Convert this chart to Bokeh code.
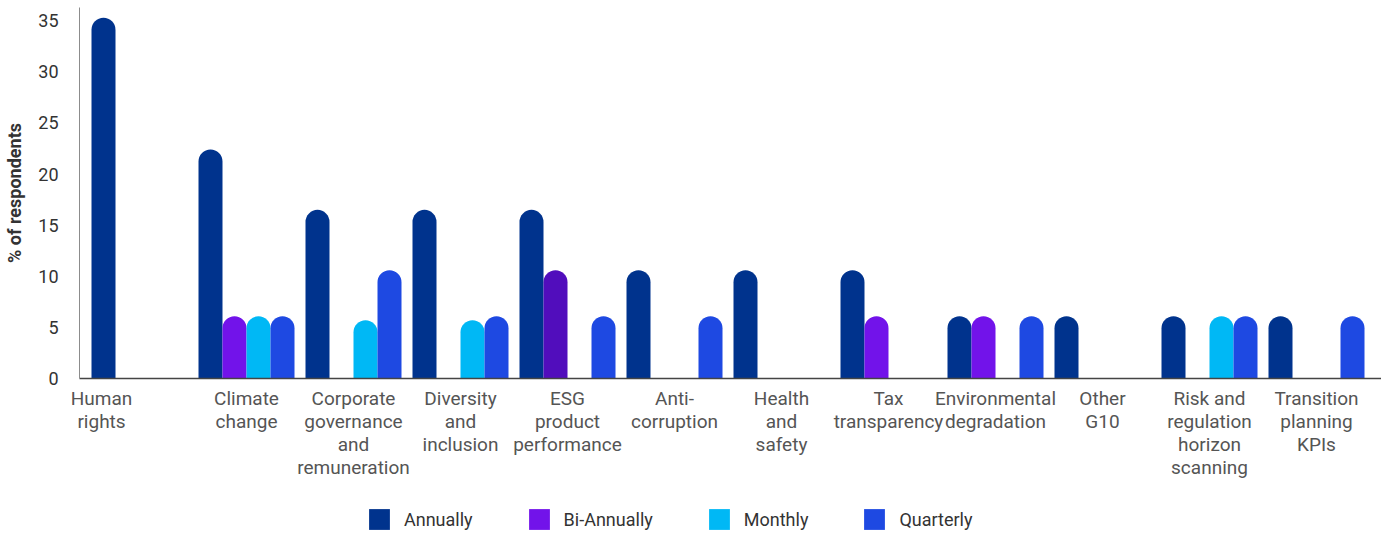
from bokeh.plotting import figure
from bokeh.layouts import column
from bokeh.models import ColumnDataSource, FixedTicker, Legend, LegendItem, Range1d
from bokeh.embed import file_html
from bokeh.resources import INLINE

categories = ["Human rights", "Climate change", "Corporate governance and remuneration",
              "Diversity and inclusion", "ESG product performance", "Anti-corruption",
              "Health and safety", "Tax transparency", "Environmental degradation",
              "Other G10", "Risk and regulation horizon scanning", "Transition planning KPIs"]
tick_labels = ["Human\nrights", "Climate\nchange", "Corporate\ngovernance\nand\nremuneration",
               "Diversity\nand\ninclusion", "ESG\nproduct\nperformance", "Anti-\ncorruption",
               "Health\nand\nsafety", "Tax\ntransparency", "Environmental\ndegradation",
               "Other\nG10", "Risk and\nregulation\nhorizon\nscanning", "Transition\nplanning\nKPIs"]
series = ["Annually", "Bi-Annually", "Monthly", "Quarterly"]
annually    = [35.3, 22.4, 16.5, 16.5, 16.5, 10.6, 10.6, 10.6, 6.1, 6.1, 6.1, 6.1]
bi_annually = [0, 6.1, 0, 0, 10.6, 0, 0, 6.1, 6.1, 0, 0, 0]
monthly     = [0, 6.1, 5.7, 5.7, 0, 0, 0, 0, 0, 0, 6.1, 0]
quarterly   = [0, 6.1, 10.6, 6.1, 6.1, 6.1, 0, 0, 6.1, 0, 6.1, 6.1]
values = [annually, bi_annually, monthly, quarterly]
colors = ["#00338D", "#7213EA", "#00B8F5", "#1E49E2"]
esg_bi_color = "#510DBC"
y_ticks = [0, 5, 10, 15, 20, 25, 30, 35]

FONT = "Roboto"
W = 1381
H1, H2 = 500, 35
left, top = 79, 7
bottom = H1 - 378
px_per_group = 107.0
slot = 24.0 / px_per_group
first_center_px = 139.0
frame_w = W - left
x0 = (0 - (first_center_px - left)) / px_per_group
x1 = x0 + frame_w / px_per_group

p = figure(width=W, height=H1, output_backend="svg", toolbar_location=None,
           min_border_left=left, min_border_right=0, min_border_top=top, min_border_bottom=bottom,
           x_range=Range1d(x0, x1), y_range=Range1d(0, 36.3))
p.outline_line_color = None
p.grid.visible = False
p.background_fill_color = "white"

for si, (name, vals, col) in enumerate(zip(series, values, colors)):
    xs, tops, cols = [], [], []
    for gi, v in enumerate(vals):
        if v > 0:
            xs.append(gi + (si - 1.5) * slot)
            tops.append(v)
            c = col
            if name == "Bi-Annually" and categories[gi] == "ESG product performance":
                c = esg_bi_color
            cols.append(c)
    src = ColumnDataSource(dict(x=xs, top=tops, color=cols))
    p.vbar(x="x", top="top", bottom=0, width=slot, source=src, fill_color="color",
           line_color=None, border_radius=(12, 12, 0, 0))

# x axis
label_pos = list(range(len(categories)))
label_pos[0] = -0.355
p.xaxis.ticker = FixedTicker(ticks=label_pos)
p.xaxis.major_label_overrides = {lp: t for lp, t in zip(label_pos, tick_labels)}
p.xaxis.major_tick_line_color = None
p.xaxis.minor_tick_line_color = None
p.xaxis.axis_line_color = "#444444"
p.xaxis.axis_line_width = 1.5
p.xaxis.major_label_text_font = FONT
p.xaxis.major_label_text_font_size = "19px"
p.xaxis.major_label_text_color = "#555555"
p.xaxis.major_label_standoff = 2
p.xaxis.major_label_text_line_height = 1.0

# y axis
p.yaxis.ticker = FixedTicker(ticks=y_ticks)
p.yaxis.major_tick_line_color = None
p.yaxis.minor_tick_line_color = None
p.yaxis.axis_line_color = "#8c8c8c"
p.yaxis.major_label_text_font = FONT
p.yaxis.major_label_text_font_size = "18px"
p.yaxis.major_label_text_color = "#333333"
p.yaxis.major_label_standoff = 15
p.yaxis.axis_label = "% of respondents"
p.yaxis.axis_label_text_font = FONT
p.yaxis.axis_label_text_font_size = "18px"
p.yaxis.axis_label_text_font_style = "bold"
p.yaxis.axis_label_text_color = "#333333"
p.yaxis.axis_label_standoff = 10

# legend strip (swatch renderers sit outside the visible range; only their legend entries show)
lg = figure(width=W, height=H2, output_backend="svg", toolbar_location=None,
            min_border=0, x_range=Range1d(0, 1), y_range=Range1d(0, 1))
lg.axis.visible = False
lg.grid.visible = False
lg.outline_line_color = None
items = []
for name, col in zip(series, colors):
    r = lg.vbar(x=[-5], top=[-4], bottom=[-5], width=0.1, fill_color=col, line_color=None)
    items.append(LegendItem(label=name, renderers=[r]))
legend = Legend(items=items, orientation="horizontal", location=(287, 3),
                padding=0, margin=0, spacing=53, glyph_width=26, glyph_height=26,
                label_standoff=12, border_line_color=None, background_fill_alpha=0,
                label_text_font=FONT, label_text_font_size="18px", label_text_color="#333333")
lg.add_layout(legend, "center")

layout = column(p, lg, spacing=0)
open("out.html", "w").write(file_html(layout, INLINE))
